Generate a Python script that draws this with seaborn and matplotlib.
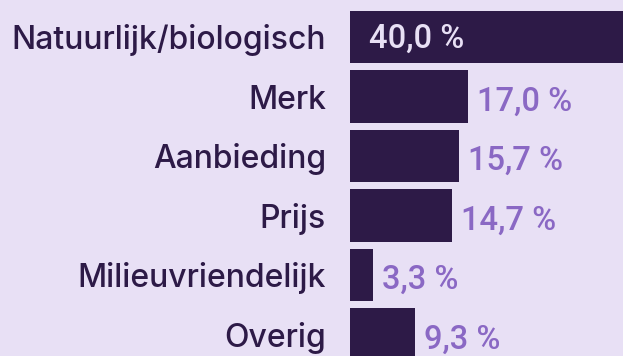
import matplotlib
matplotlib.use("Agg")
import matplotlib.pyplot as plt
import seaborn as sns
import pandas as pd

categories = ["Natuurlijk/biologisch", "Merk", "Aanbieding", "Prijs", "Milieuvriendelijk", "Overig"]
values = [40.0, 17.0, 15.7, 14.7, 3.3, 9.3]
value_labels = ["40,0\u202f%", "17,0\u202f%", "15,7\u202f%", "14,7\u202f%", "3,3\u202f%", "9,3\u202f%"]

BG = "#E8E0F5"
BAR = "#2D1A47"
ACCENT = "#8A68C4"

sns.set_theme(style="white")
plt.rcParams["font.family"] = ["Inter", "DejaVu Sans"]

df = pd.DataFrame({"cat": categories, "val": values})

fig = plt.figure(figsize=(6.23, 3.56), dpi=100)
fig.patch.set_facecolor(BG)
ax = fig.add_axes([350 / 623, 0, 1 - 350 / 623, 1])
ax.set_facecolor(BG)

sns.barplot(data=df, x="val", y="cat", orient="h", color=BAR, width=0.88,
            saturation=1, linewidth=0, ax=ax)

ax.set_xlim(0, 39.28)
ax.set_ylim(5.3595, -0.6216)
for s in ax.spines.values():
    s.set_visible(False)
ax.set_xticks([])
ax.set_yticks([])
ax.set_xlabel("")
ax.set_ylabel("")

num_font = ["Roboto", "DejaVu Sans"]

for i, (cat, v, lab) in enumerate(zip(categories, values, value_labels)):
    ax.annotate(cat, xy=(0, i), xycoords="data", xytext=(-24, -12),
                textcoords="offset pixels", ha="right", va="baseline",
                fontsize=23, fontweight="medium", color=BAR,
                annotation_clip=False)
    if v > 30:
        ax.annotate(lab, xy=(0, i), xytext=(19, -11), textcoords="offset pixels",
                    ha="left", va="baseline", fontsize=23.5, fontweight="medium",
                    family=num_font, color=BG)
    else:
        ax.annotate(lab, xy=(v, i), xytext=(9, -14), textcoords="offset pixels",
                    ha="left", va="baseline", fontsize=23.5, fontweight="medium",
                    family=num_font, color=ACCENT)

fig.savefig("out.png", dpi=100, facecolor=BG)
